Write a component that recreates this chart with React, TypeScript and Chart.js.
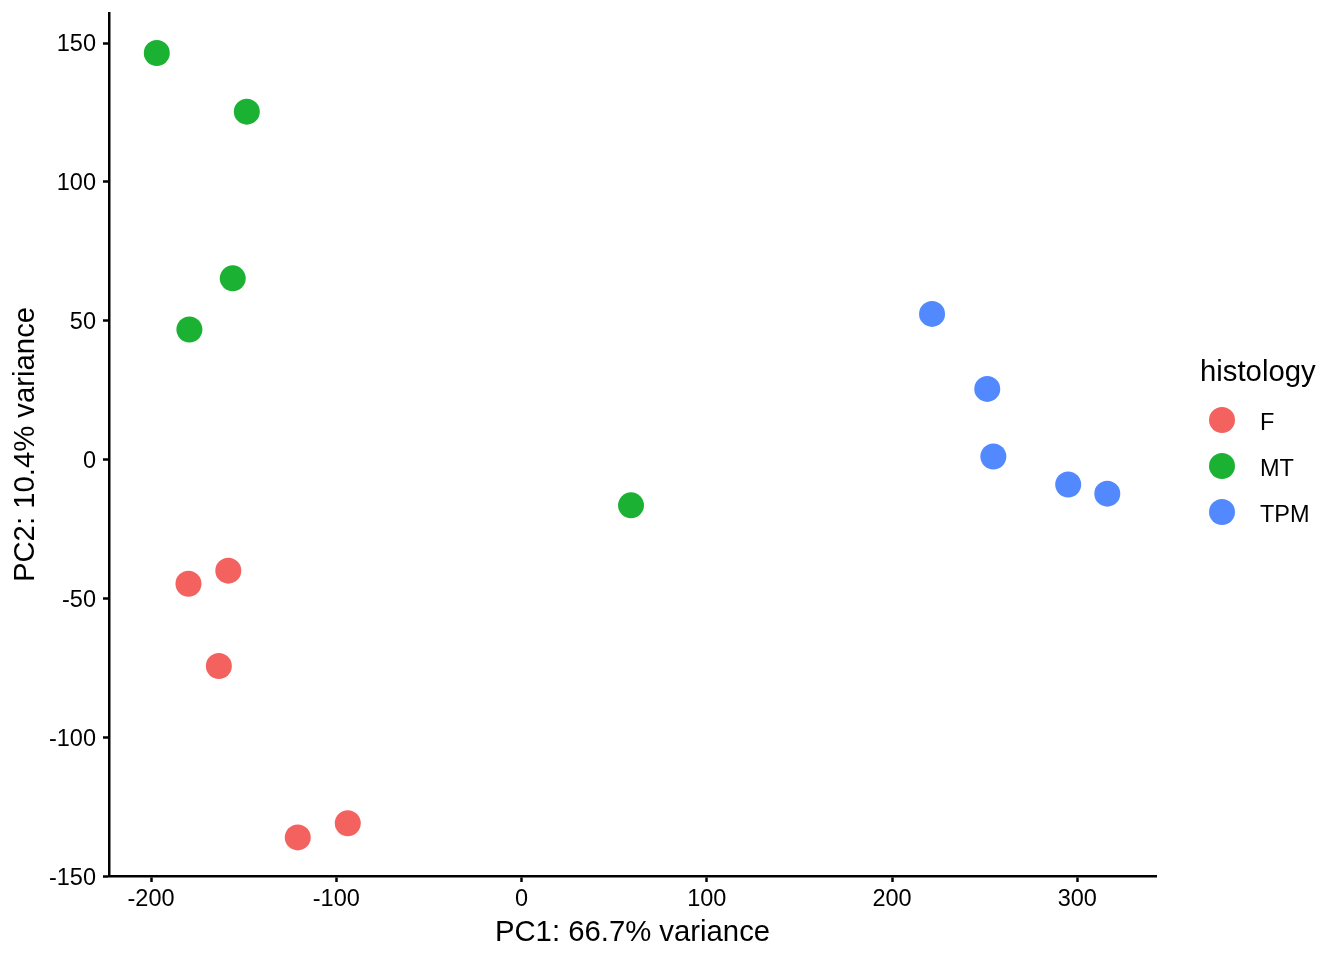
import React, { useEffect, useRef } from 'react';
import { Chart, registerables } from 'chart.js';

Chart.register(...registerables);

const FONT = "'Liberation Sans', Arial, Helvetica, sans-serif";

// groups and colours (legend order)
const groups = ['F', 'MT', 'TPM'];
const colors = ['#F3625F', '#1BB233', '#5289FF'];

// PC1 / PC2 scores per histology group
const fPc1 = [-179.8, -158.3, -163.4, -120.8, -93.8];
const fPc2 = [-44.6, -39.9, -74.2, -135.9, -130.8];
const mtPc1 = [-196.9, -148.3, -155.9, -179.3, 59.1];
const mtPc2 = [146.4, 125.3, 65.3, 46.9, -16.4];
const tpmPc1 = [221.6, 251.4, 254.7, 295.1, 316.2];
const tpmPc2 = [52.5, 25.5, 1.2, -8.9, -12.2];

const xTicks = [-200, -100, 0, 100, 200, 300];
const yTicks = [-150, -100, -50, 0, 50, 100, 150];

const xLabel = 'PC1: 66.7% variance';
const yLabel = 'PC2: 10.4% variance';
const legendTitle = 'histology';

const pairs = (xs: number[], ys: number[]) => xs.map((x, i) => ({ x, y: ys[i] }));

// ggplot-like legend on the right
const legendPlugin = {
  id: 'ggLegend',
  afterDraw(chart: any) {
    const { ctx } = chart;
    ctx.save();
    ctx.textAlign = 'left';
    ctx.textBaseline = 'alphabetic';
    ctx.fillStyle = '#000';
    ctx.font = `29.3px ${FONT}`;
    ctx.fillText(legendTitle, 1200, 381);
    chart.data.datasets.forEach((ds: any, i: number) => {
      const y = 420 + i * 46;
      ctx.beginPath();
      ctx.arc(1222, y, 13, 0, Math.PI * 2);
      ctx.fillStyle = ds.backgroundColor;
      ctx.fill();
      ctx.fillStyle = '#000';
      ctx.font = `23.5px ${FONT}`;
      ctx.fillText(ds.label, 1260, y + 9.5);
    });
    ctx.restore();
  },
};

const axisCommon = {
  type: 'linear' as const,
  grid: {
    display: true,
    drawOnChartArea: false,
    drawTicks: true,
    tickLength: 6,
    tickWidth: 2.5,
    tickColor: '#000',
    color: '#000',
  },
  border: { display: true, color: '#000', width: 2.5 },
};

const App: React.FC = () => {
  const canvasRef = useRef<HTMLCanvasElement>(null);
  const chartRef = useRef<Chart | null>(null);

  useEffect(() => {
    if (!canvasRef.current) return;
    chartRef.current = new Chart(canvasRef.current, {
      type: 'scatter',
      data: {
        datasets: [
          { label: groups[0], data: pairs(fPc1, fPc2), backgroundColor: colors[0] },
          { label: groups[1], data: pairs(mtPc1, mtPc2), backgroundColor: colors[1] },
          { label: groups[2], data: pairs(tpmPc1, tpmPc2), backgroundColor: colors[2] },
        ],
      },
      options: {
        animation: false,
        responsive: true,
        maintainAspectRatio: false,
        layout: { padding: { top: 13, right: 188, left: 0, bottom: 0 } },
        elements: { point: { radius: 13, hoverRadius: 13, borderWidth: 0 } },
        plugins: { legend: { display: false }, tooltip: { enabled: false } },
        scales: {
          x: {
            ...axisCommon,
            min: -222.7,
            max: 342.5,
            afterBuildTicks: (s: any) => {
              s.ticks = xTicks.map((v) => ({ value: v }));
            },
            afterFit: (s: any) => {
              s.height = 84;
              s.paddingLeft = 0;
              s.paddingRight = 0;
            },
            ticks: { color: '#000', padding: 3, font: { family: FONT, size: 23.5 } },
            title: {
              display: true,
              text: xLabel,
              color: '#000',
              padding: { top: 0, bottom: 10 },
              font: { family: FONT, size: 29.3 },
            },
          },
          y: {
            ...axisCommon,
            min: -149.8,
            max: 160.8,
            afterBuildTicks: (s: any) => {
              s.ticks = yTicks.map((v) => ({ value: v }));
            },
            afterFit: (s: any) => {
              s.width = 109;
              s.paddingTop = 0;
              s.paddingBottom = 0;
            },
            ticks: { color: '#000', padding: 7, labelOffset: 2, font: { family: FONT, size: 23.5 } },
            title: {
              display: true,
              text: yLabel,
              color: '#000',
              padding: { top: 8, bottom: 0 },
              font: { family: FONT, size: 29.3 },
            },
          },
        },
      },
      plugins: [legendPlugin],
    });
    return () => {
      chartRef.current?.destroy();
      chartRef.current = null;
    };
  }, []);

  return (
    <div style={{ position: 'absolute', left: 0, top: 0, width: 1344, height: 960, background: '#fff' }}>
      <canvas ref={canvasRef}></canvas>
    </div>
  );
};

export default App;
